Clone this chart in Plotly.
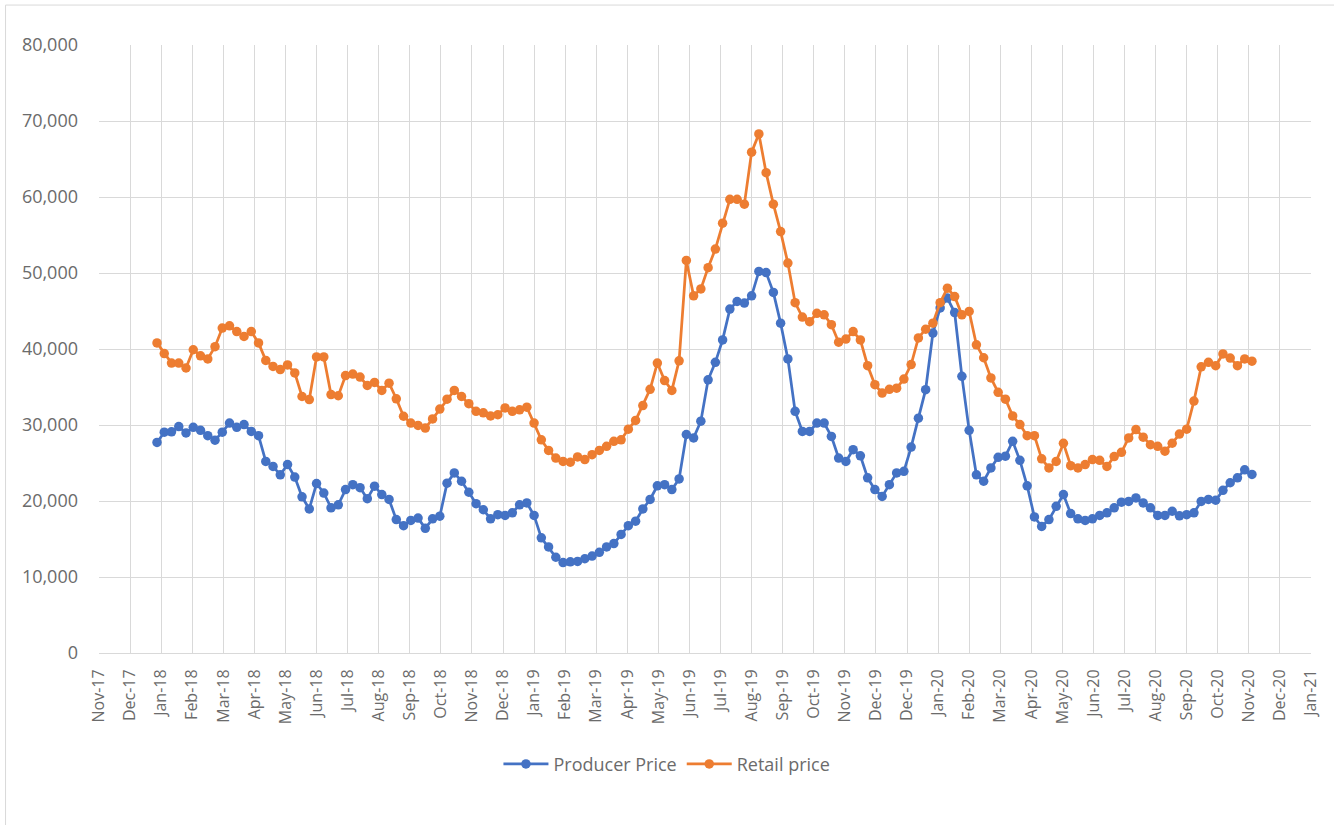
import pandas as pd
import plotly.graph_objects as go

# Weekly price observations (one value per week)
START_WEEK = "2018-01-06"

producer_price = [
    27700, 29050, 29100, 29800, 28950, 29700, 29300, 28600, 28000, 29050,
    30250, 29700, 30050, 29150, 28600, 25200, 24550, 23450, 24800, 23150,
    20550, 18950, 22300, 21050, 19100, 19500, 21500, 22150, 21750, 20300,
    21950, 20850, 20200, 17550, 16750, 17450, 17750, 16400, 17650, 18000,
    22350, 23700, 22600, 21150, 19650, 18850, 17650, 18200, 18100, 18450,
    19500, 19750, 18100, 15150, 13950, 12600, 11900, 12000, 12050, 12400,
    12750, 13250, 13950, 14400, 15600, 16750, 17350, 18950, 20200, 22000,
    22150, 21500, 22900, 28750, 28300, 30500, 35950, 38250, 41200, 45250,
    46250, 46050, 47000, 50200, 50050, 47450, 43400, 38700, 31800, 29150,
    29150, 30250, 30250, 28500, 25650, 25200, 26750, 25950, 23050, 21500,
    20600, 22150, 23700, 23900, 27100, 30900, 34650, 42100, 45400, 46700,
    44800, 36400, 29300, 23450, 22600, 24350, 25750, 25900, 27850, 25350,
    22000, 17900, 16650, 17550, 19300, 20850, 18350, 17650, 17450, 17650,
    18100, 18450, 19100, 19850, 19950, 20400, 19750, 19100, 18100, 18100,
    18650, 18050, 18200, 18450, 19950, 20200, 20100, 21400, 22400, 23050,
    24100, 23500,
]

retail_price = [
    40800, 39400, 38150, 38150, 37500, 39900, 39100, 38700, 40300, 42750,
    43050, 42300, 41650, 42300, 40800, 38500, 37700, 37300, 37900, 36850,
    33750, 33350, 38950, 38950, 34000, 33850, 36500, 36700, 36300, 35200,
    35600, 34550, 35500, 33450, 31150, 30250, 29950, 29600, 30800, 32100,
    33400, 34550, 33750, 32800, 31800, 31600, 31200, 31350, 32250, 31800,
    32000, 32350, 30250, 28050, 26650, 25650, 25200, 25100, 25800, 25450,
    26100, 26650, 27200, 27850, 28050, 29450, 30600, 32550, 34700, 38150,
    35850, 34550, 38450, 51650, 47000, 47900, 50700, 53150, 56550, 59700,
    59700, 59050, 65900, 68300, 63200, 59050, 55450, 51300, 46100, 44200,
    43600, 44700, 44500, 43200, 40900, 41300, 42300, 41200, 37800, 35300,
    34200, 34700, 34850, 36050, 37950, 41450, 42600, 43400, 46100, 48000,
    46900, 44500, 44950, 40550, 38850, 36200, 34300, 33400, 31200, 30050,
    28600, 28600, 25550, 24350, 25200, 27600, 24650, 24350, 24800, 25450,
    25350, 24550, 25850, 26400, 28300, 29400, 28400, 27400, 27200, 26550,
    27600, 28800, 29450, 33150, 37650, 38250, 37800, 39350, 38800, 37800,
    38700, 38400,
]

# Date-axis labels, one every 30 days from the axis start
AXIS_START = "2017-11-11"
AXIS_END = "2021-01-24"
TICK_LABELS = [
    "Nov-17", "Dec-17", "Jan-18", "Feb-18", "Mar-18", "Apr-18", "May-18",
    "Jun-18", "Jul-18", "Aug-18", "Sep-18", "Oct-18", "Nov-18", "Dec-18",
    "Jan-19", "Feb-19", "Mar-19", "Apr-19", "May-19", "Jun-19", "Jul-19",
    "Aug-19", "Sep-19", "Oct-19", "Nov-19", "Dec-19", "Dec-19", "Jan-20",
    "Feb-20", "Mar-20", "Apr-20", "May-20", "Jun-20", "Jul-20", "Aug-20",
    "Sep-20", "Oct-20", "Nov-20", "Dec-20", "Jan-21",
]

Y_TICKS = [0, 10000, 20000, 30000, 40000, 50000, 60000, 70000, 80000]

weeks = pd.date_range(START_WEEK, periods=len(producer_price), freq="7D")
tick_dates = pd.date_range(AXIS_START, periods=len(TICK_LABELS), freq="30D")

BLUE = "#4472C4"
ORANGE = "#ED7D31"
GRID = "#d9d9d9"
TEXT = "#6b6b6b"
FONT = "Open Sans, DejaVu Sans, sans-serif"

fig = go.Figure()
fig.add_trace(go.Scatter(
    x=weeks, y=producer_price, name="Producer Price",
    mode="lines+markers",
    line=dict(color=BLUE, width=2.75),
    marker=dict(color=BLUE, size=9.5),
))
fig.add_trace(go.Scatter(
    x=weeks, y=retail_price, name="Retail price",
    mode="lines+markers",
    line=dict(color=ORANGE, width=2.75),
    marker=dict(color=ORANGE, size=9.5),
))

fig.update_layout(
    width=1334, height=825,
    margin=dict(l=99, r=23, t=45, b=171.5),
    paper_bgcolor="white", plot_bgcolor="white",
    font=dict(family=FONT, color=TEXT),
    showlegend=True,
    legend=dict(
        orientation="h", x=0.4686, xanchor="center",
        y=-0.183, yanchor="middle",
        font=dict(size=18, color=TEXT),
        itemwidth=45,
    ),
    shapes=[dict(
        type="rect", xref="paper", yref="paper",
        x0=-0.0771, x1=1.05, y0=-0.3, y1=1.0657,
        line=dict(color=GRID, width=1), fillcolor="rgba(0,0,0,0)",
        layer="below",
    )],
)

fig.update_xaxes(
    type="date",
    range=[AXIS_START, AXIS_END],
    tickmode="array", tickvals=tick_dates, ticktext=TICK_LABELS,
    tickangle=-90,
    tickfont=dict(size=16, color=TEXT),
    showgrid=True, gridcolor=GRID, gridwidth=1,
    showline=True, linecolor=GRID, linewidth=1,
    ticks="", zeroline=False,
    ticklabelstandoff=9,
)

fig.update_yaxes(
    range=[0, 80000],
    tickmode="array", tickvals=Y_TICKS,
    tickformat=",",
    tickfont=dict(size=18, color=TEXT),
    showgrid=True, gridcolor=GRID, gridwidth=1,
    showline=False, zeroline=False, ticks="",
    ticklabelstandoff=20,
)

fig.write_html("out.html")
